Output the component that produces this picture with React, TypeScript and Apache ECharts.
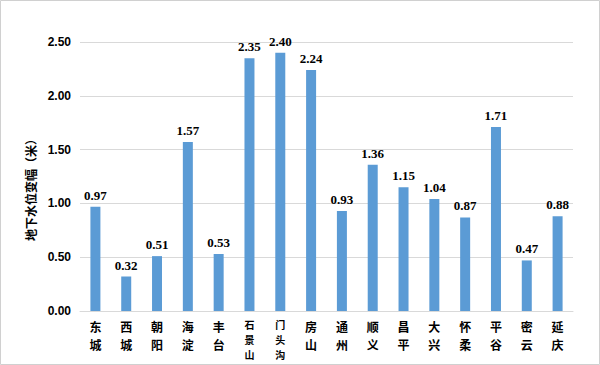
import React, { useEffect, useRef } from "react";
import * as echarts from "echarts";

const categories = ["东城", "西城", "朝阳", "海淀", "丰台", "石景山", "门头沟", "房山", "通州", "顺义", "昌平", "大兴", "怀柔", "平谷", "密云", "延庆"];
const values = [0.97, 0.32, 0.51, 1.57, 0.53, 2.35, 2.4, 2.24, 0.93, 1.36, 1.15, 1.04, 0.87, 1.71, 0.47, 0.88];
const yAxisName = "地下水位变幅（米）";

export default function App() {
  const ref = useRef<HTMLDivElement>(null);
  useEffect(() => {
    document.body.style.margin = "0";
    const chart = echarts.init(ref.current!, null, { renderer: "svg" });
    chart.setOption({
      animation: false,
      backgroundColor: "#ffffff",
      grid: { left: 80, right: 27, top: 42, bottom: 54 },
      xAxis: {
        type: "category",
        data: categories,
        axisLine: { lineStyle: { color: "#d9d9d9" } },
        axisTick: { show: false },
        axisLabel: {
          interval: 0,
          margin: 6,
          formatter: (v: string) => {
            const chars = v.split("");
            const key = chars.length > 2 ? "b" : "a";
            return chars.map((c) => `{${key}|${c}}`).join("\n");
          },
          rich: {
            a: { fontSize: 12, fontWeight: "bold", color: "#000", lineHeight: 18, fontFamily: "Noto Sans CJK SC" },
            b: { fontSize: 10, fontWeight: "bold", color: "#000", lineHeight: 15, fontFamily: "Noto Sans CJK SC" },
          },
        },
      },
      yAxis: {
        type: "value",
        min: 0,
        max: 2.5,
        interval: 0.5,
        axisLine: { show: false },
        axisTick: { show: false },
        splitLine: { lineStyle: { color: "#d9d9d9" } },
        axisLabel: {
          margin: 9,
          color: "#000",
          fontWeight: "bold",
          fontSize: 12,
          fontFamily: "Liberation Sans",
          formatter: (v: number) => v.toFixed(2),
        },
      },
      series: [
        {
          type: "bar",
          data: values,
          barWidth: 10,
          itemStyle: { color: "#5b9bd5" },
          label: {
            show: true,
            position: "top",
            distance: 5,
            color: "#000",
            fontWeight: "bold",
            fontSize: 13,
            fontFamily: "Liberation Serif",
            formatter: (p: any) => Number(p.value).toFixed(2),
          },
        },
      ],
      graphic: [
        {
          type: "rect",
          shape: { x: 0.5, y: 0.5, width: 599, height: 364 },
          style: { fill: "none", stroke: "#d0d0d0", lineWidth: 1 },
          silent: true,
        },
        {
          type: "text",
          x: 30,
          y: 187,
          rotation: Math.PI / 2,
          style: {
            text: yAxisName,
            fill: "#000",
            fontSize: 12,
            fontWeight: "bold",
            fontFamily: "Noto Sans CJK SC",
            align: "center",
            verticalAlign: "middle",
          },
          silent: true,
        },
      ],
    });
    return () => chart.dispose();
  }, []);
  return <div ref={ref} style={{ width: 600, height: 365 }} />;
}
